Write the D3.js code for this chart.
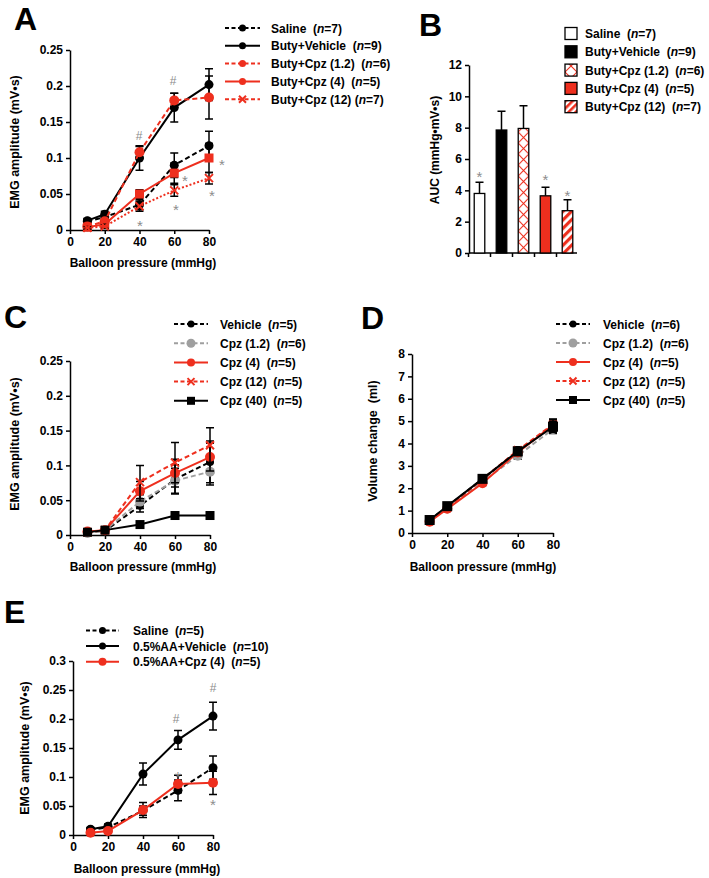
<!DOCTYPE html>
<html><head><meta charset="utf-8">
<script src="https://cdn.jsdelivr.net/npm/d3@7"></script>
<style>
body{margin:0;background:#fff}
svg text{font-family:"Liberation Sans",Arial,sans-serif;font-weight:bold;white-space:pre}
</style>
</head><body>
<svg id="c" width="709" height="878"></svg>
<script>
// ---------------- DATA ----------------
const pressures = [10, 20, 40, 60, 80];
const xTicks = [0, 20, 40, 60, 80];

// Panel A
const aLabels = ["Saline", "Buty+Vehicle", "Buty+Cpz (1.2)", "Buty+Cpz (4)", "Buty+Cpz (12)"];
const aN = ["7", "9", "6", "5", "7"];
const aSaline = [0.012, 0.018, 0.035, 0.090, 0.117];
const aSalineErr = [0.003, 0.004, 0.007, 0.017, 0.020];
const aVehicle = [0.013, 0.022, 0.100, 0.170, 0.202];
const aVehicleErr = [0.003, 0.004, 0.017, 0.020, 0.022];
const aCpz1 = [0.005, 0.012, 0.108, 0.180, 0.184];
const aCpz1Err = [0.003, 0.004, 0.008, 0.010, 0.030];
const aCpz4 = [0.004, 0.008, 0.050, 0.079, 0.100];
const aCpz4Err = [0.003, 0.004, 0.006, 0.014, 0.020];
const aCpz12 = [0.003, 0.005, 0.033, 0.055, 0.072];
const aCpz12Err = [0.002, 0.003, 0.007, 0.008, 0.008];
const aYTicks = [0, 0.05, 0.1, 0.15, 0.2, 0.25];

// Panel B
const bLabels = ["Saline", "Buty+Vehicle", "Buty+Cpz (1.2)", "Buty+Cpz (4)", "Buty+Cpz (12)"];
const bN = ["7", "9", "6", "5", "7"];
const bAUC = [3.8, 7.85, 7.95, 3.65, 2.7];
const bAUCErr = [0.72, 1.2, 1.45, 0.55, 0.7];
const bYTicks = [0, 2, 4, 6, 8, 10, 12];

// Panel C
const cLabels = ["Vehicle", "Cpz (1.2)", "Cpz (4)", "Cpz (12)", "Cpz (40)"];
const cN = ["5", "6", "5", "5", "5"];
const cVehicle = [0.004, 0.006, 0.042, 0.080, 0.105];
const cVehicleErr = [0.002, 0.002, 0.009, 0.021, 0.030];
const cCpz1 = [0.003, 0.007, 0.048, 0.078, 0.091];
const cCpz1Err = [0.002, 0.002, 0.010, 0.018, 0.019];
const cCpz4 = [0.005, 0.007, 0.063, 0.089, 0.112];
const cCpz4Err = [0.002, 0.002, 0.014, 0.020, 0.020];
const cCpz12 = [0.004, 0.007, 0.076, 0.104, 0.129];
const cCpz12Err = [0.002, 0.002, 0.024, 0.029, 0.025];
const cCpz40 = [0.004, 0.007, 0.015, 0.028, 0.028];
const cCpz40Err = [0.001, 0.001, 0.003, 0.003, 0.002];
const cYTicks = [0, 0.05, 0.1, 0.15, 0.2, 0.25];

// Panel D
const dLabels = ["Vehicle", "Cpz (1.2)", "Cpz (4)", "Cpz (12)", "Cpz (40)"];
const dN = ["6", "6", "5", "5", "5"];
const dVehicle = [0.57, 1.18, 2.42, 3.65, 4.80];
const dVehicleErr = [0.05, 0.08, 0.10, 0.15, 0.25];
const dCpz1 = [0.55, 1.10, 2.30, 3.45, 4.65];
const dCpz1Err = [0.05, 0.08, 0.10, 0.15, 0.20];
const dCpz4 = [0.50, 1.08, 2.22, 3.60, 4.82];
const dCpz4Err = [0.05, 0.08, 0.10, 0.15, 0.25];
const dCpz12 = [0.55, 1.15, 2.40, 3.70, 4.85];
const dCpz12Err = [0.05, 0.08, 0.10, 0.15, 0.25];
const dCpz40 = [0.58, 1.20, 2.42, 3.65, 4.75];
const dCpz40Err = [0.05, 0.08, 0.10, 0.15, 0.25];
const dYTicks = [0, 1, 2, 3, 4, 5, 6, 7, 8];

// Panel E
const eLabels = ["Saline", "0.5%AA+Vehicle", "0.5%AA+Cpz (4)"];
const eN = ["5", "10", "5"];
const eSaline = [0.009, 0.013, 0.042, 0.077, 0.116];
const eSalineErr = [0.003, 0.004, 0.008, 0.018, 0.020];
const eVehicle = [0.010, 0.015, 0.105, 0.164, 0.205];
const eVehicleErr = [0.003, 0.004, 0.019, 0.016, 0.024];
const eCpz4 = [0.004, 0.007, 0.043, 0.088, 0.090];
const eCpz4Err = [0.002, 0.003, 0.013, 0.015, 0.020];
const eYTicks = [0, 0.05, 0.1, 0.15, 0.2, 0.25, 0.3];

// ---------------- DRAWING ----------------
const FONT = '"Liberation Sans", Arial, sans-serif';
const RED = "#ee2f1e", GRAY = "#9f9f9f", BLACK = "#000", STAR = "#8c8c8c";
const svg = d3.select("#c");
svg.append("rect").attr("width", 709).attr("height", 878).attr("fill", "#fff");

function axisStyle(g) {
  g.selectAll("path,line").attr("stroke", "#000").attr("stroke-width", 1.5);
  g.selectAll("text").attr("fill", "#000").style("font-size", "12px")
    .style("font-weight", "bold").style("font-family", FONT);
}
const fmt = d => String(+d.toFixed(2));

function marker(g, type, cx, cy, size, color) {
  if (type === "circle") {
    g.append("circle").attr("cx", cx).attr("cy", cy).attr("r", size).attr("fill", color);
  } else if (type === "square") {
    g.append("rect").attr("x", cx - size).attr("y", cy - size)
      .attr("width", 2 * size).attr("height", 2 * size).attr("fill", color);
  } else if (type === "x") {
    const s = size;
    g.append("path").attr("d", `M${cx - s},${cy - s}L${cx + s},${cy + s}M${cx + s},${cy - s}L${cx - s},${cy + s}`)
      .attr("stroke", color).attr("stroke-width", 2).attr("fill", "none");
  }
}

function legendText(g, x, y, label, n, sep) {
  const t = g.append("text").attr("x", x).attr("y", y + 4.5).attr("fill", "#000")
    .style("font-size", "12px");
  t.append("tspan").text(label + sep + "(");
  t.append("tspan").style("font-style", "italic").text("n");
  t.append("tspan").text("=" + n + ")");
}

function panelLetter(txt, x, y) {
  svg.append("text").attr("x", x).attr("y", y).text(txt).style("font-size", "32px").attr("fill", "#000");
}

function linePanel(p) {
  const x = d3.scaleLinear([0, 80], [p.x0, p.x1]);
  const y = d3.scaleLinear([0, p.ymax], [p.y0, p.y1]);
  const g = svg.append("g");
  g.append("g").attr("transform", `translate(0,${p.y0})`)
    .call(d3.axisBottom(x).tickValues(xTicks).tickSize(4).tickSizeOuter(0).tickFormat(d3.format("d")))
    .call(axisStyle);
  g.append("g").attr("transform", `translate(${p.x0},0)`)
    .call(d3.axisLeft(y).tickValues(p.yTicks).tickSize(4).tickSizeOuter(0).tickFormat(fmt))
    .call(axisStyle);
  const line = d3.line().x((d, i) => x(pressures[i])).y(d => y(d));
  const order = p.drawOrder || p.series.map((s, i) => i);
  order.forEach(k => {
    const s = p.series[k];
    const sg = g.append("g");
    s.vals.forEach((v, i) => {
      const e = s.errs[i], cx = x(pressures[i]);
      const top = y(v + e), bot = y(v - e);
      sg.append("path").attr("d", `M${cx},${top}V${bot}M${cx - 4},${top}H${cx + 4}M${cx - 4},${bot}H${cx + 4}`)
        .attr("stroke", s.errColor || "#000").attr("stroke-width", 1.5).attr("fill", "none");
    });
    sg.append("path").datum(s.vals).attr("d", line).attr("fill", "none")
      .attr("stroke", s.color).attr("stroke-width", 2).attr("stroke-dasharray", s.dash || null);
    s.vals.forEach((v, i) => marker(sg, s.marker, x(pressures[i]), y(v), s.size, s.color));
  });
  // legend
  const lg = svg.append("g");
  p.series.forEach((s, i) => {
    const ly = p.legY + i * p.legStep;
    lg.append("line").attr("x1", p.legX1).attr("x2", p.legX2).attr("y1", ly).attr("y2", ly)
      .attr("stroke", s.color).attr("stroke-width", 2).attr("stroke-dasharray", s.dash ? "4,2.5" : null);
    marker(lg, s.legMarker || s.marker, (p.legX1 + p.legX2) / 2, ly, s.legSize || 3.5, s.color);
    legendText(lg, p.legTX, ly, p.labels[i], p.ns[i], p.seps ? p.seps[i] : "  ");
  });
  // titles
  svg.append("text").attr("x", p.xtX).attr("y", p.xtY).attr("text-anchor", "middle")
    .style("font-size", "12px").attr("fill", "#000").text("Balloon pressure (mmHg)");
  svg.append("text").attr("transform", `translate(${p.ytX},${p.ytY}) rotate(-90)`).attr("text-anchor", "middle")
    .style("font-size", "12.5px").attr("fill", "#000").text(p.yTitle);
  // annotations
  (p.marks || []).forEach(m => {
    const isStar = m.t === "*";
    svg.append("text").attr("x", m.x).attr("y", m.y + (isStar ? 9 : 4.5)).attr("text-anchor", "middle")
      .style("font-size", isStar ? "15px" : "12px").style("font-weight", "normal")
      .attr("fill", STAR).text(m.t);
  });
  return { x, y };
}

// ---- Panel A ----
panelLetter("A", 14, 30);
linePanel({
  x0: 70, x1: 209, y0: 230, y1: 50, ymax: 0.25, yTicks: aYTicks,
  series: [
    { vals: aSaline, errs: aSalineErr, color: BLACK, dash: "5,3", marker: "circle", size: 4.5 },
    { vals: aVehicle, errs: aVehicleErr, color: BLACK, marker: "circle", size: 4.5 },
    { vals: aCpz1, errs: aCpz1Err, color: RED, dash: "5,3", marker: "circle", size: 5 },
    { vals: aCpz4, errs: aCpz4Err, color: RED, marker: "square", size: 4.5, legMarker: "circle" },
    { vals: aCpz12, errs: aCpz12Err, color: RED, dash: "2,2", marker: "x", size: 4, legSize: 3.5 }
  ],
  labels: aLabels, ns: aN, seps: ["  ", "  ", "  ", "  ", " "],
  legX1: 225, legX2: 260, legTX: 271, legY: 28, legStep: 17.8,
  xtX: 143, xtY: 267, ytX: 19, ytY: 142, yTitle: "EMG amplitude (mV•s)",
  marks: [
    { t: "#", x: 139, y: 135 }, { t: "#", x: 173, y: 80 },
    { t: "*", x: 140, y: 222 }, { t: "*", x: 176, y: 206 }, { t: "*", x: 185, y: 177 },
    { t: "*", x: 222, y: 161 }, { t: "*", x: 212, y: 192 }
  ]
});

// ---- Panel B ----
panelLetter("B", 419, 36);
(function () {
  const defs = svg.append("defs");
  const bx = d3.scaleBand().domain(bLabels).range([468.5, 578.5]).paddingInner(0.52).paddingOuter(0.26);
  const by = d3.scaleLinear([0, 12], [253, 65]);
  // patterns
  const cross = defs.append("pattern").attr("id", "cross").attr("patternUnits", "userSpaceOnUse")
    .attr("x", bx(bLabels[2])).attr("y", 0).attr("width", bx.bandwidth()).attr("height", 11);
  cross.append("rect").attr("width", bx.bandwidth()).attr("height", 11).attr("fill", "#fff");
  cross.append("path").attr("d", `M0,0L${bx.bandwidth()},11M${bx.bandwidth()},0L0,11`)
    .attr("stroke", RED).attr("stroke-width", 1.1).attr("fill", "none");
  const stripes = defs.append("pattern").attr("id", "stripes").attr("patternUnits", "userSpaceOnUse")
    .attr("width", 6).attr("height", 6).attr("patternTransform", "rotate(45)");
  stripes.append("rect").attr("width", 6).attr("height", 6).attr("fill", "#fff");
  stripes.append("rect").attr("width", 3.2).attr("height", 6).attr("fill", RED);
  const legStripes = defs.append("pattern").attr("id", "stripesL").attr("patternUnits", "userSpaceOnUse")
    .attr("width", 5).attr("height", 5).attr("patternTransform", "rotate(45)");
  legStripes.append("rect").attr("width", 5).attr("height", 5).attr("fill", "#fff");
  legStripes.append("rect").attr("width", 2.6).attr("height", 5).attr("fill", RED);
  const legCross = defs.append("pattern").attr("id", "crossL").attr("patternUnits", "userSpaceOnUse")
    .attr("x", 565).attr("y", 0).attr("width", 12).attr("height", 12);
  legCross.append("rect").attr("width", 12).attr("height", 12).attr("fill", "#fff");
  legCross.append("path").attr("d", "M0,0L12,12M12,0L0,12").attr("stroke", RED).attr("stroke-width", 1.1);

  const fills = ["#fff", "#000", "url(#cross)", RED, "url(#stripes)"];
  const legFills = ["#fff", "#000", "url(#crossL)", RED, "url(#stripesL)"];
  const g = svg.append("g");
  // y axis
  g.append("g").attr("transform", "translate(469,0)")
    .call(d3.axisLeft(by).tickValues(bYTicks).tickSize(4).tickSizeOuter(0)).call(axisStyle);
  // x axis with ticks at band starts
  const xa = g.append("g");
  xa.append("line").attr("x1", 469).attr("x2", 577).attr("y1", 253).attr("y2", 253)
    .attr("stroke", "#000").attr("stroke-width", 1.5);
  bLabels.forEach(c => {
    const tx = bx(c) - bx.step() * 0.26;
    xa.append("line").attr("x1", tx).attr("x2", tx).attr("y1", 253).attr("y2", 257)
      .attr("stroke", "#000").attr("stroke-width", 1.5);
  });
  // bars + error bars
  bLabels.forEach((c, i) => {
    const x0 = bx(c), w = bx.bandwidth(), cx = x0 + w / 2;
    const top = by(bAUC[i] + bAUCErr[i]);
    g.append("path").attr("d", `M${cx},${by(bAUC[i])}V${top}M${cx - 4},${top}H${cx + 4}`)
      .attr("stroke", "#000").attr("stroke-width", 1.5);
    g.append("rect").attr("x", x0).attr("y", by(bAUC[i])).attr("width", w)
      .attr("height", by(0) - by(bAUC[i])).attr("fill", fills[i]).attr("stroke", "#000").attr("stroke-width", 1.3);
  });
  // asterisks
  [[0, 173], [3, 176], [4, 192]].forEach(([i, yy]) => {
    svg.append("text").attr("x", bx(bLabels[i]) + bx.bandwidth() / 2).attr("y", yy + 9)
      .attr("text-anchor", "middle").style("font-size", "15px").style("font-weight", "normal")
      .attr("fill", STAR).text("*");
  });
  // title
  svg.append("text").attr("transform", "translate(439,150) rotate(-90)").attr("text-anchor", "middle")
    .style("font-size", "12px").attr("fill", "#000").text("AUC (mmHg•mV•s)");
  // legend
  bLabels.forEach((c, i) => {
    const ly = 33.5 + i * 18.3;
    svg.append("rect").attr("x", 565).attr("y", ly - 6).attr("width", 12).attr("height", 12)
      .attr("fill", legFills[i]).attr("stroke", "#000").attr("stroke-width", 1.3);
    legendText(svg, 585, ly, c, bN[i], "  ");
  });
})();

// ---- Panel C ----
panelLetter("C", 4, 328);
linePanel({
  x0: 70, x1: 210, y0: 535, y1: 361, ymax: 0.25, yTicks: cYTicks,
  series: [
    { vals: cVehicle, errs: cVehicleErr, color: BLACK, dash: "5,3", marker: "circle", size: 4 },
    { vals: cCpz1, errs: cCpz1Err, color: GRAY, dash: "5,3", marker: "circle", size: 5, legSize: 4.5 },
    { vals: cCpz4, errs: cCpz4Err, color: RED, marker: "circle", size: 5, legSize: 4 },
    { vals: cCpz12, errs: cCpz12Err, color: RED, dash: "5,3", marker: "x", size: 4 },
    { vals: cCpz40, errs: cCpz40Err, color: BLACK, marker: "square", size: 4.5, legSize: 4 }
  ],
  labels: cLabels, ns: cN,
  legX1: 174, legX2: 208, legTX: 220, legY: 324, legStep: 19.2,
  xtX: 143, xtY: 571, ytX: 19, ytY: 444, yTitle: "EMG amplitude (mV•s)"
});

// ---- Panel D ----
panelLetter("D", 361, 329);
linePanel({
  x0: 412, x1: 553, y0: 533, y1: 354, ymax: 8, yTicks: dYTicks,
  series: [
    { vals: dVehicle, errs: dVehicleErr, color: BLACK, dash: "5,3", marker: "circle", size: 4 },
    { vals: dCpz1, errs: dCpz1Err, color: GRAY, dash: "5,3", marker: "circle", size: 5, legSize: 4.5 },
    { vals: dCpz4, errs: dCpz4Err, color: RED, marker: "circle", size: 5, legSize: 4 },
    { vals: dCpz12, errs: dCpz12Err, color: RED, dash: "5,3", marker: "x", size: 4 },
    { vals: dCpz40, errs: dCpz40Err, color: BLACK, marker: "square", size: 5, legSize: 4 }
  ],
  drawOrder: [1, 0, 2, 3, 4],
  labels: dLabels, ns: dN,
  legX1: 556, legX2: 590, legTX: 603, legY: 324, legStep: 19,
  xtX: 483, xtY: 571, ytX: 377, ytY: 441, yTitle: "Volume change  (ml)"
});

// ---- Panel E ----
panelLetter("E", 4, 623);
linePanel({
  x0: 73, x1: 213, y0: 835, y1: 661, ymax: 0.3, yTicks: eYTicks,
  series: [
    { vals: eSaline, errs: eSalineErr, color: BLACK, dash: "5,3", marker: "circle", size: 4.5 },
    { vals: eVehicle, errs: eVehicleErr, color: BLACK, marker: "circle", size: 4.5 },
    { vals: eCpz4, errs: eCpz4Err, color: RED, marker: "circle", size: 5, legSize: 4 }
  ],
  labels: eLabels, ns: eN,
  legX1: 86, legX2: 119, legTX: 133, legY: 630.5, legStep: 15.6,
  xtX: 147, xtY: 873, ytX: 29, ytY: 748, yTitle: "EMG amplitude (mV•s)",
  marks: [
    { t: "#", x: 176, y: 718 }, { t: "#", x: 213, y: 687 },
    { t: "*", x: 178, y: 773 }, { t: "*", x: 213, y: 801 }
  ]
});
</script>
</body></html>
